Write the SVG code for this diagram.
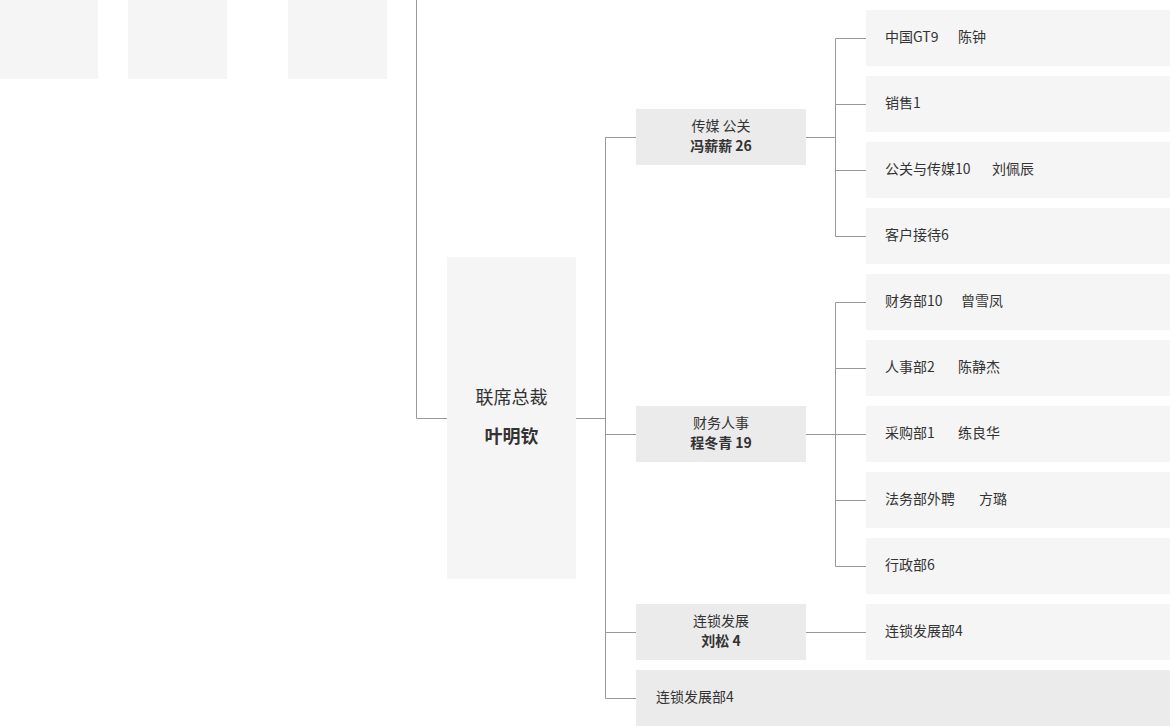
<svg xmlns="http://www.w3.org/2000/svg" width="1170" height="726" viewBox="0 0 1170 726">
<style>
.bg{fill:#ffffff}
.ph{fill:#f5f5f5}
.leaf{fill:#f5f5f5}
.mid{fill:#ebebeb}
.root{fill:#f5f5f5}
text{font-family:"Noto Sans CJK SC","Noto Sans",sans-serif;fill:#333333;font-size:14px}
.b{font-weight:bold}
.big{font-size:18px}
.c{text-anchor:middle}
.ln{fill:none;stroke:#999999;stroke-width:1}
</style>
<rect class="bg" x="0" y="0" width="1170" height="726"/>
<g id="placeholders">
<rect class="ph" x="0" y="0" width="98" height="79"/>
<rect class="ph" x="128" y="0" width="99" height="79"/>
<rect class="ph" x="288" y="0" width="99" height="79"/>
</g>
<g id="connectors">
<path class="ln" d="M416.5 0V418.5H447"/>
<path class="ln" d="M576 418.5H605.5"/>
<path class="ln" d="M605.5 137.5V698.5"/>
<path class="ln" d="M605.5 137.5H636M605.5 434.5H636M605.5 632.5H636M605.5 698.5H636"/>
<path class="ln" d="M806 137.5H835.5M835.5 38.5V236.5M835.5 38.5H866M835.5 104.5H866M835.5 170.5H866M835.5 236.5H866"/>
<path class="ln" d="M806 434.5H835.5M835.5 302.5V566.5M835.5 302.5H866M835.5 368.5H866M835.5 434.5H866M835.5 500.5H866M835.5 566.5H866"/>
<path class="ln" d="M806 632.5H866"/>
</g>
<g id="root">
<rect class="root" x="447" y="257" width="129" height="322"/>
<text class="c big" x="511.5" y="404">联席总裁</text>
<text class="c big b" x="511.5" y="443">叶明钦</text>
</g>
<g id="n-media">
<rect class="mid" x="636" y="109" width="170" height="56"/>
<text class="c" x="721" y="131">传媒 公关</text>
<text class="c b" x="721" y="151">冯薪薪 26</text>
</g>
<g id="n-finance">
<rect class="mid" x="636" y="406" width="170" height="56"/>
<text class="c" x="721" y="428">财务人事</text>
<text class="c b" x="721" y="448">程冬青 19</text>
</g>
<g id="n-chain">
<rect class="mid" x="636" y="604" width="170" height="56"/>
<text class="c" x="721" y="626">连锁发展</text>
<text class="c b" x="721" y="646">刘松 4</text>
</g>
<g id="n-chain-dept-wide">
<rect class="mid" x="636" y="670" width="534" height="56"/>
<text x="656" y="702">连锁发展部4</text>
</g>
<g id="l1"><rect class="leaf" x="866" y="10" width="304" height="56"/><text x="885" y="42">中国GT9</text><text x="958" y="42">陈钟</text></g>
<g id="l2"><rect class="leaf" x="866" y="76" width="304" height="56"/><text x="885" y="108">销售1</text></g>
<g id="l3"><rect class="leaf" x="866" y="142" width="304" height="56"/><text x="885" y="174">公关与传媒10</text><text x="992" y="174">刘佩辰</text></g>
<g id="l4"><rect class="leaf" x="866" y="208" width="304" height="56"/><text x="885" y="240">客户接待6</text></g>
<g id="l5"><rect class="leaf" x="866" y="274" width="304" height="56"/><text x="885" y="306">财务部10</text><text x="961" y="306">曾雪凤</text></g>
<g id="l6"><rect class="leaf" x="866" y="340" width="304" height="56"/><text x="885" y="372">人事部2</text><text x="958" y="372">陈静杰</text></g>
<g id="l7"><rect class="leaf" x="866" y="406" width="304" height="56"/><text x="885" y="438">采购部1</text><text x="958" y="438">练良华</text></g>
<g id="l8"><rect class="leaf" x="866" y="472" width="304" height="56"/><text x="885" y="504">法务部外聘</text><text x="979" y="504">方璐</text></g>
<g id="l9"><rect class="leaf" x="866" y="538" width="304" height="56"/><text x="885" y="570">行政部6</text></g>
<g id="l10"><rect class="leaf" x="866" y="604" width="304" height="56"/><text x="885" y="636">连锁发展部4</text></g>
</svg>
